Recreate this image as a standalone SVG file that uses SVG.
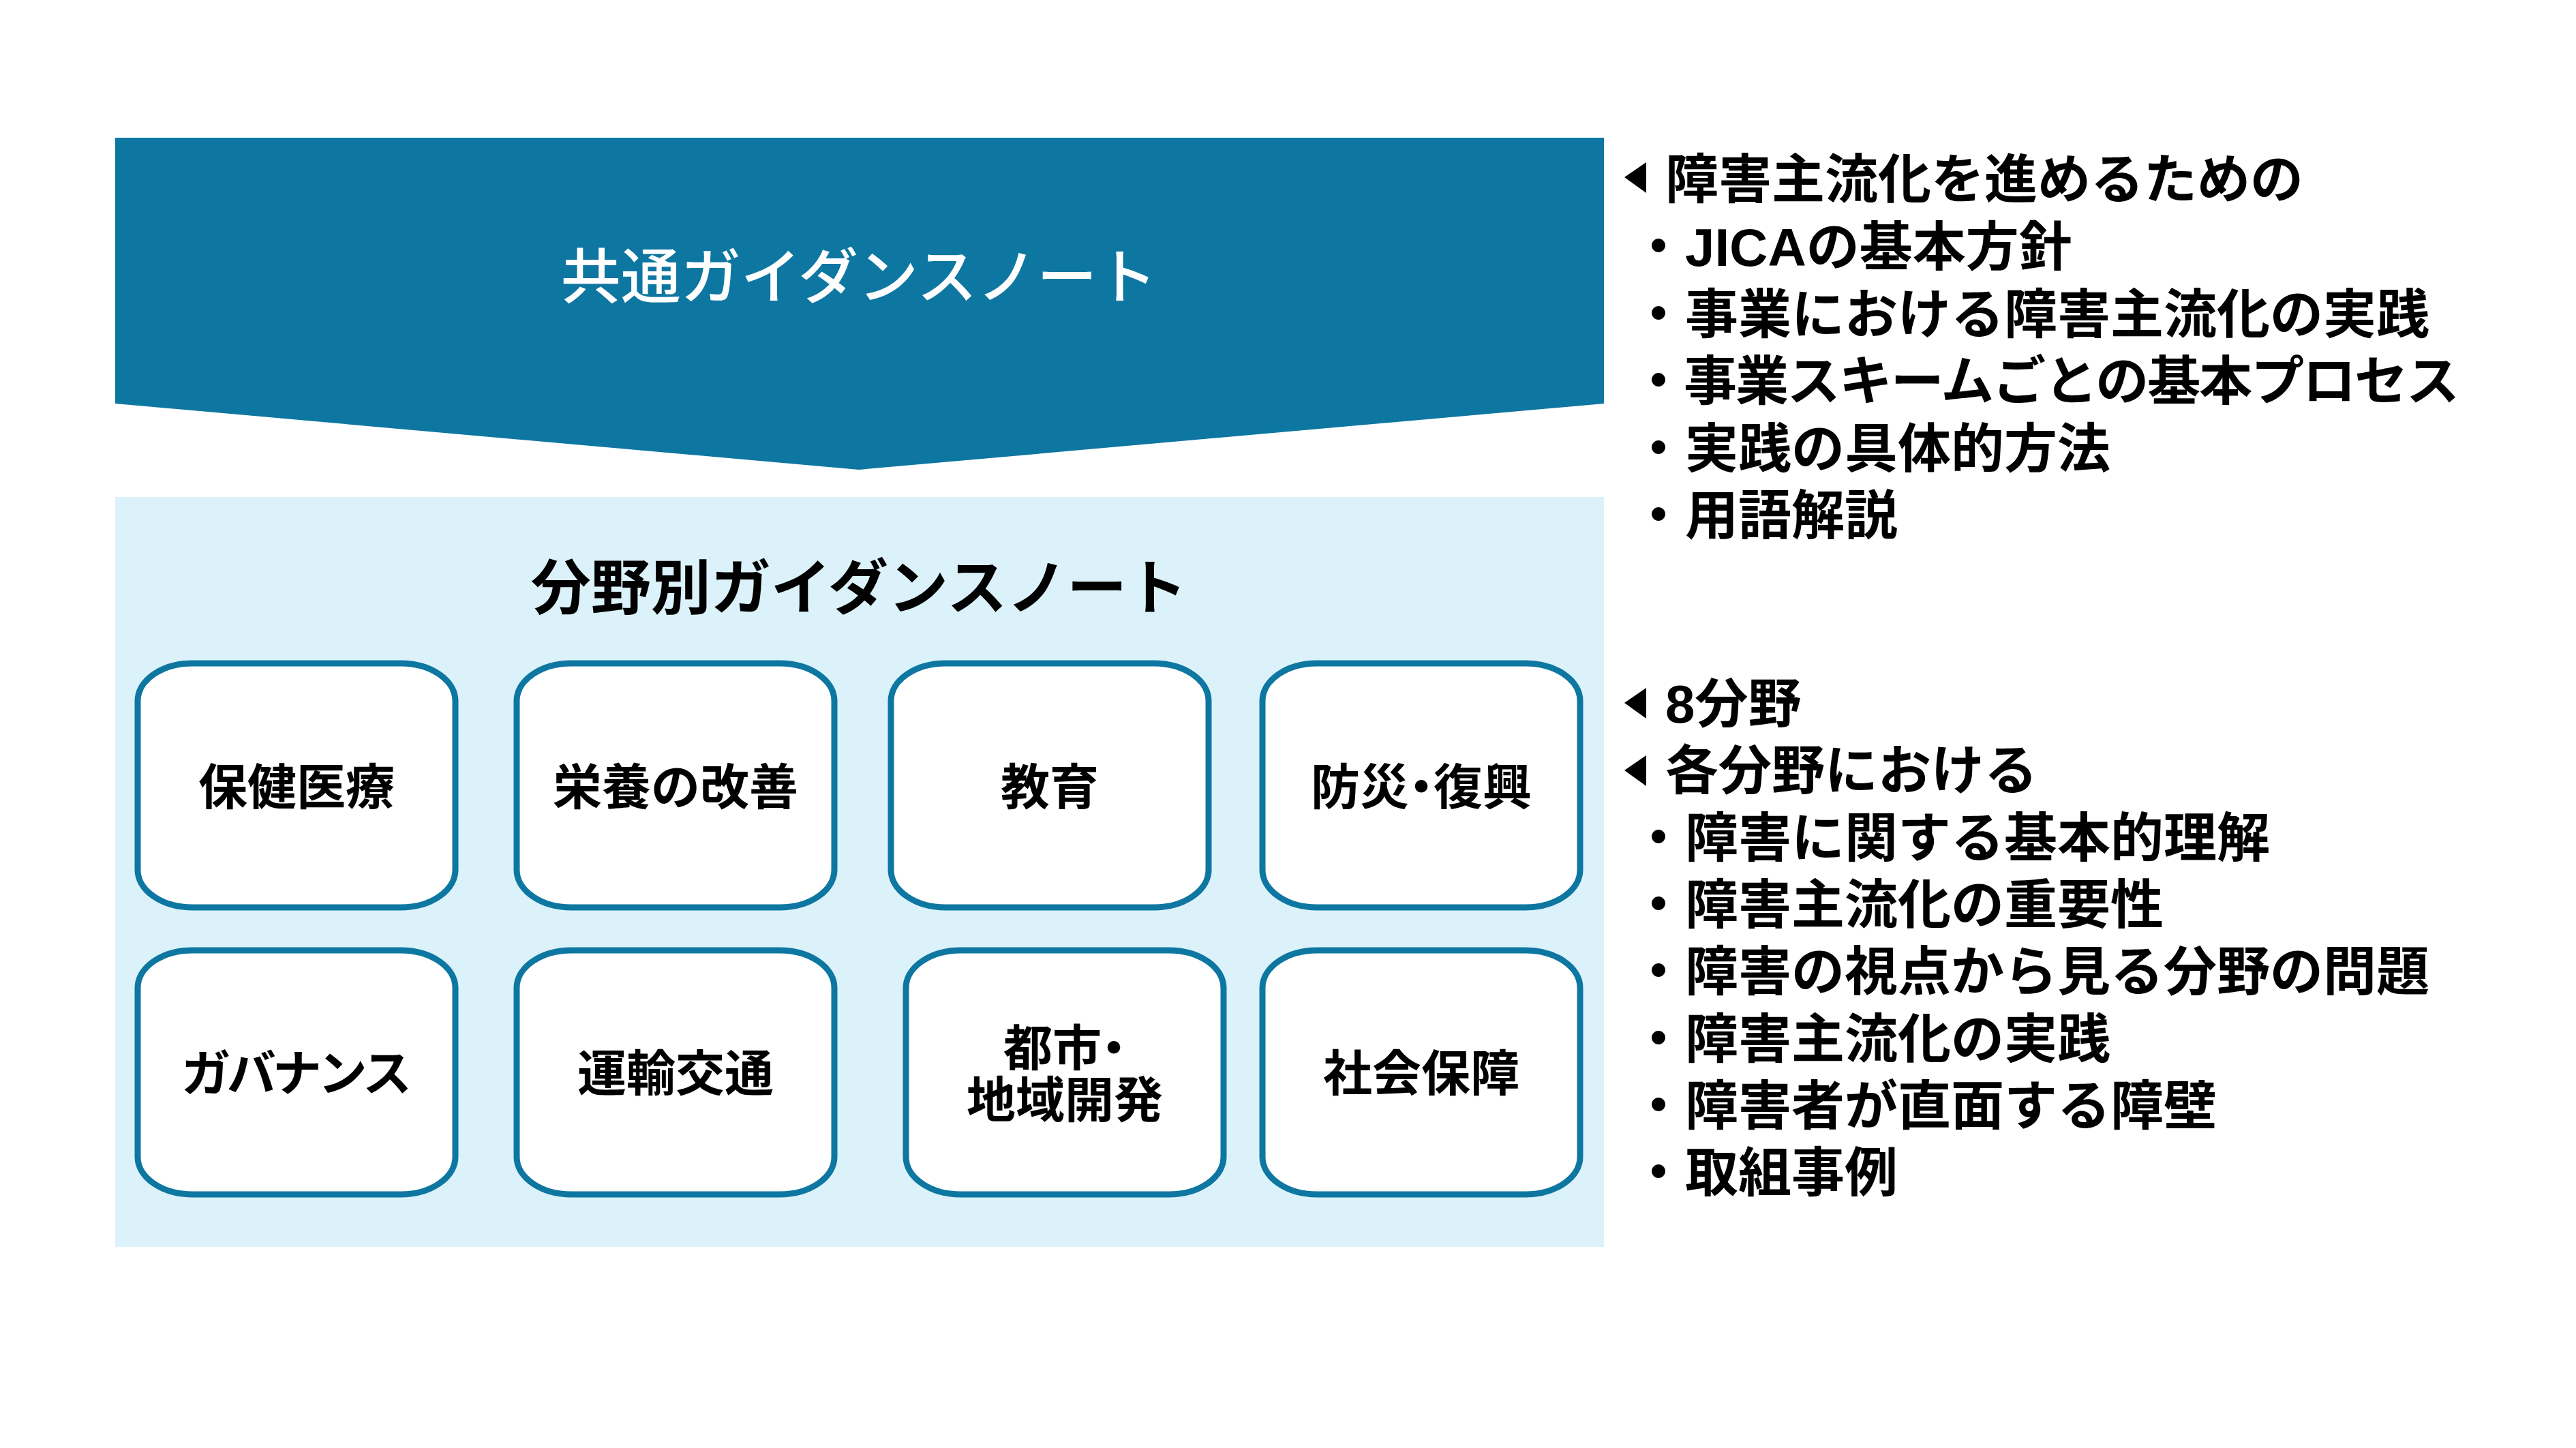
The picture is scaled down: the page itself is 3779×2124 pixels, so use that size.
<svg xmlns="http://www.w3.org/2000/svg" width="3779" height="2124" viewBox="0 0 3779 2124">
<style>
.t{font-family:"Liberation Sans","Noto Sans CJK JP",sans-serif;}
.title-w{fill:#FFFFFF;font-size:88px;font-weight:500;text-anchor:middle;}
.title-b{fill:#000000;font-size:88px;font-weight:700;text-anchor:middle;}
.box{fill:#FFFFFF;stroke:#0E77A1;stroke-width:9;}
.bt{fill:#000000;font-size:72px;font-weight:700;text-anchor:middle;}
.p{font-feature-settings:"palt" 1;}
.rt{fill:#000000;font-size:78px;font-weight:700;}
.tri{fill:#000000;}
</style>
<rect x="0" y="0" width="3779" height="2124" fill="#FFFFFF"/>

<g id="common-note">
<polygon points="169,202 2353,202 2353,592 1260,689 169,592" fill="#0E77A1"/>
<text class="t title-w" x="1260" y="437">共通ガイダンスノート</text>
</g>

<g id="sector-note">
<rect x="169" y="729" width="2184" height="1100" fill="#DCF2FA"/>
<text class="t title-b" x="1260" y="893">分野別ガイダンスノート</text>
</g>

<g id="box-health">
<rect class="box" x="202" y="973" width="466" height="358" rx="80" ry="55"/>
<text class="t bt" x="435" y="1180">保健医療</text>
</g>
<g id="box-nutrition">
<rect class="box" x="758" y="973" width="466" height="358" rx="80" ry="55"/>
<text class="t bt" x="991" y="1180">栄養の改善</text>
</g>
<g id="box-education">
<rect class="box" x="1307" y="973" width="466" height="358" rx="80" ry="55"/>
<text class="t bt" x="1540" y="1180">教育</text>
</g>
<g id="box-disaster">
<rect class="box" x="1852" y="973" width="466" height="358" rx="80" ry="55"/>
<text class="t bt p" x="2085" y="1180">防災・復興</text>
</g>
<g id="box-governance">
<rect class="box" x="202" y="1394" width="466" height="358" rx="80" ry="55"/>
<text class="t bt" x="435" y="1600" textLength="338" lengthAdjust="spacing">ガバナンス</text>
</g>
<g id="box-transport">
<rect class="box" x="758" y="1394" width="466" height="358" rx="80" ry="55"/>
<text class="t bt" x="991" y="1600">運輸交通</text>
</g>
<g id="box-urban">
<rect class="box" x="1329" y="1394" width="466" height="358" rx="80" ry="55"/>
<text class="t bt p" x="1562" y="1563">都市・</text>
<text class="t bt" x="1562" y="1639">地域開発</text>
</g>
<g id="box-social">
<rect class="box" x="1852" y="1394" width="466" height="358" rx="80" ry="55"/>
<text class="t bt" x="2085" y="1600">社会保障</text>
</g>

<g id="common-list">
<polygon class="tri" points="2383,260 2415,238 2415,283"/>
<text class="t rt" x="2443" y="291">障害主流化を進めるための</text>
<text class="t rt" x="2394" y="390">・JICAの基本方針</text>
<text class="t rt" x="2394" y="489">・事業における障害主流化の実践</text>
<text class="t rt" x="2394" y="587" textLength="1214" lengthAdjust="spacing">・事業スキームごとの基本プロセス</text>
<text class="t rt" x="2394" y="686">・実践の具体的方法</text>
<text class="t rt" x="2394" y="784">・用語解説</text>
</g>

<g id="sector-list">
<polygon class="tri" points="2383,1031 2415,1009 2415,1054"/>
<text class="t rt" x="2443" y="1060">8分野</text>
<polygon class="tri" points="2383,1130 2415,1108 2415,1153"/>
<text class="t rt" x="2443" y="1158">各分野における</text>
<text class="t rt" x="2394" y="1257">・障害に関する基本的理解</text>
<text class="t rt" x="2394" y="1355">・障害主流化の重要性</text>
<text class="t rt" x="2394" y="1453">・障害の視点から見る分野の問題</text>
<text class="t rt" x="2394" y="1552">・障害主流化の実践</text>
<text class="t rt" x="2394" y="1650">・障害者が直面する障壁</text>
<text class="t rt" x="2394" y="1748">・取組事例</text>
</g>

<g id="connectors"></g>
</svg>
